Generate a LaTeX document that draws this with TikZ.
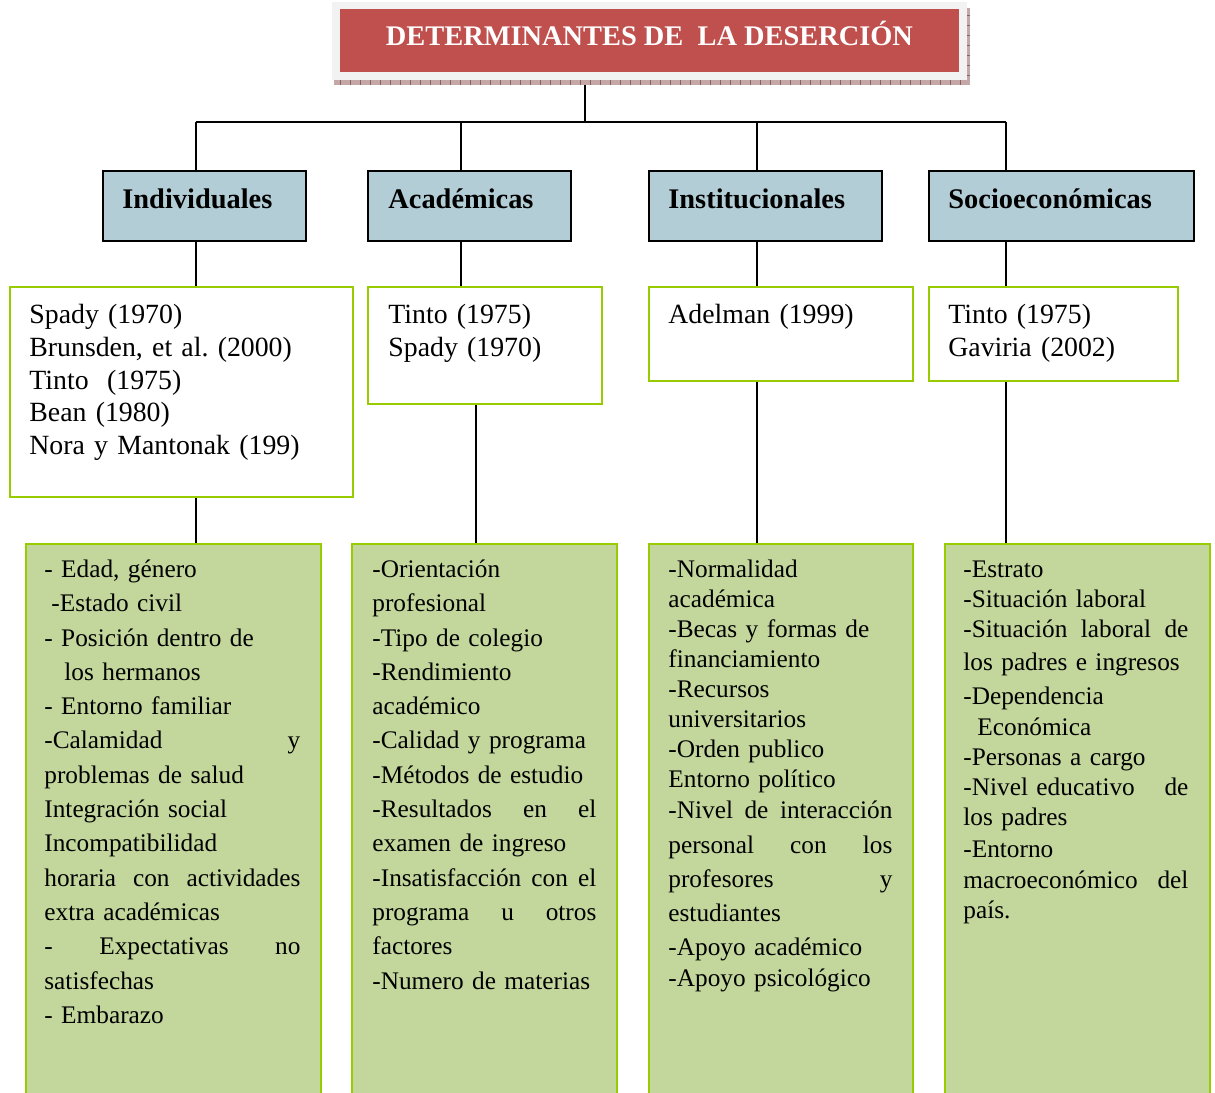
\documentclass[tikz,border=0pt]{standalone}
\usepackage{fontspec}
\setmainfont{Liberation Serif}
\frenchspacing
\usetikzlibrary{positioning,calc}
\definecolor{titlered}{RGB}{192,80,77}
\definecolor{framegray}{RGB}{242,242,242}
\definecolor{shadowpink}{RGB}{196,168,168}
\definecolor{shadowdark}{RGB}{140,96,96}
\definecolor{hdrblue}{RGB}{178,205,214}
\definecolor{limeline}{RGB}{153,204,0}
\definecolor{sagefill}{RGB}{195,214,155}
\tikzset{
    x=0.5pt,
    y=-0.5pt,
    box/.style = {
        draw,
        shape=rectangle,
        anchor=north west,
        inner sep=0pt
    },
    titlebox/.style = {
        shape=rectangle,
        fill=titlered,
        text=white,
        font=\bfseries\fontsize{14.2}{17}\selectfont,
        minimum width=309.5pt,
        minimum height=31.5pt,
        text height=9.4pt,
        text depth=3.9pt,
        inner sep=0pt
    },
    header/.style = {
        box,
        fill=hdrblue,
        line width=1pt,
        minimum height=35pt
    },
    refbox/.style = {
        box,
        draw=limeline,
        fill=white,
        line width=1.2pt
    },
    listbox/.style = {
        box,
        draw=limeline,
        fill=sagefill,
        line width=1.2pt,
        minimum height=276.5pt
    },
    boxtext/.style = {
        anchor=north west,
        inner sep=0pt,
        text height=10pt,
        align=left
    },
    hdrtext/.style = {
        boxtext,
        text width=118pt,
        font=\bfseries\fontsize{14.2}{17}\selectfont
    },
    reftext/.style = {
        boxtext,
        font=\fontsize{13.9}{16.4}\selectfont
    },
    listtext/.style = {
        boxtext,
        font=\fontsize{12.65}{17.15}\selectfont
    },
    tighttext/.style = {
        boxtext,
        font=\fontsize{12.65}{15}\selectfont
    },
    link/.style = {line width=1pt}
}

\begin{document}
\begin{tikzpicture}

    \useasboundingbox (0,0) rectangle (1215,1092);

    % title frame with its shadow
    \fill[shadowpink] (334,8) rectangle (970,85);
    \foreach \i in {340,350,...,960}
        \draw[shadowdark, line width=0.4pt] (\i,80) -- (\i,85);
    \foreach \j in {15,25,...,75}
        \draw[shadowdark, line width=0.4pt] (967,\j) -- (970,\j);
    \fill[framegray] (332,2) rectangle (967,80);
    \node[titlebox] (title) at (649.5,40.5) {DETERMINANTES DE\ \ LA DESERCIÓN};

    % headers
    \node[header, minimum width=101.5pt] (indiv_head) at (102,170) {};
    \node[header, minimum width=101.5pt] (acad_head) at (367,170) {};
    \node[header, minimum width=116.5pt] (inst_head) at (648,170) {};
    \node[header, minimum width=132.5pt] (socio_head) at (928,170) {};

    \node[hdrtext] (indiv_head_txt) at ([shift={(20,18)}]indiv_head.north west) {Individuales};
    \node[hdrtext] (acad_head_txt) at ([shift={(21,18)}]acad_head.north west) {Académicas};
    \node[hdrtext] (inst_head_txt) at ([shift={(20,18)}]inst_head.north west) {Institucionales};
    \node[hdrtext] (socio_head_txt) at ([shift={(20,18)}]socio_head.north west) {Socioeconómicas};

    % authors
    \node[refbox, minimum width=171.5pt, minimum height=105pt] (indiv_ref) at (9,286) {};
    \node[refbox, minimum width=117pt, minimum height=58.5pt] (acad_ref) at (367,286) {};
    \node[refbox, minimum width=132pt, minimum height=47pt] (inst_ref) at (648,286) {};
    \node[refbox, minimum width=124.5pt, minimum height=47pt] (socio_ref) at (928,286) {};

    \node[reftext, text width=150pt] (indiv_ref_txt) at ([shift={(20,17)}]indiv_ref.north west)
        {Spady (1970)\\ Brunsden, et al. (2000)\\ Tinto\ \ (1975)\\ Bean (1980)\\ Nora y Mantonak (199)};
    \node[reftext, text width=100pt] (acad_ref_txt) at ([shift={(21,17)}]acad_ref.north west)
        {Tinto (1975)\\ Spady (1970)};
    \node[reftext, text width=115pt] (inst_ref_txt) at ([shift={(20,17)}]inst_ref.north west)
        {Adelman (1999)};
    \node[reftext, text width=110pt] (socio_ref_txt) at ([shift={(20,17)}]socio_ref.north west)
        {Tinto (1975)\\ Gaviria (2002)};

    % factors
    \node[listbox, minimum width=147.5pt] (indiv_list) at (25,543) {};
    \node[listbox, minimum width=132.5pt] (acad_list) at (351,543) {};
    \node[listbox, minimum width=132pt] (inst_list) at (648,543) {};
    \node[listbox, minimum width=132.5pt] (socio_list) at (944,543) {};

    \node[listtext, text width=128pt] (indiv_list_txt) at ([shift={(19,14)}]indiv_list.north west)
        {- Edad, género\\
         \hspace*{3.5pt}-Estado civil\\
         - Posición dentro de\\
         \hspace*{10pt}los hermanos\\
         - Entorno familiar\\
         -Calamidad\hfill y\\
         problemas de salud\\
         Integración social\\
         Incompatibilidad\\
         horaria\hfill con\hfill actividades\\
         extra académicas\\
         -\hfill Expectativas\hfill no\\
         satisfechas\\
         - Embarazo};
    \node[listtext, text width=112pt] (acad_list_txt) at ([shift={(21,14)}]acad_list.north west)
        {-Orientación\\
         profesional\\
         -Tipo de colegio\\
         -Rendimiento\\
         académico\\
         -Calidad y programa\\
         -Métodos de estudio\\
         -Resultados\hfill en\hfill el\\
         examen de ingreso\\
         -Insatisfacción\hfill con\hfill el\\
         programa\hfill u\hfill otros\\
         factores\\
         -Numero de materias};
    \node[tighttext, text width=112pt] (inst_list_txt) at ([shift={(20,14)}]inst_list.north west)
        {-Normalidad\\
         académica\\
         -Becas y formas de\\
         financiamiento\\
         -Recursos\\
         universitarios\\
         -Orden publico\\
         Entorno político\\[0.5pt]
         -Nivel\hfill de\hfill interacción\\[2.5pt]
         personal\hfill con\hfill los\\[2pt]
         profesores\hfill y\\[2pt]
         estudiantes\\[2pt]
         -Apoyo académico\\[0.5pt]
         -Apoyo psicológico};
    \node[tighttext, text width=112.5pt] (socio_list_txt) at ([shift={(19,14)}]socio_list.north west)
        {-Estrato\\
         -Situación laboral\\
         -Situación\hfill laboral\hfill de\\[1.5pt]
         los padres e ingresos\\[2pt]
         -Dependencia\\[0.5pt]
         \hspace*{7pt}Económica\\
         -Personas a cargo\\
         -Nivel educativo\hfill de\\
         los padres\\[1pt]
         -Entorno\\[0.5pt]
         macroeconómico\hfill del\\
         país.};

    % connectors
    \coordinate (title_foot) at (585,85);
    \coordinate (hub) at (585,122);
    \coordinate (col_a) at (196,122);
    \coordinate (col_b) at (461,122);
    \coordinate (col_c) at (757,122);
    \coordinate (col_d) at (1006,122);
    \coordinate (acad_drop) at (476,403);

    \path[draw, link] (title_foot) -- (hub);
    \path[draw, link] (col_a) -- (col_d);

    \path[draw, link] (col_a) -- (col_a |- indiv_head.north);
    \path[draw, link] (col_b) -- (col_b |- acad_head.north);
    \path[draw, link] (col_c) -- (col_c |- inst_head.north);
    \path[draw, link] (col_d) -- (col_d |- socio_head.north);

    \path[draw, link] (col_a |- indiv_head.south) -- (col_a |- indiv_ref.north);
    \path[draw, link] (col_b |- acad_head.south) -- (col_b |- acad_ref.north);
    \path[draw, link] (col_c |- inst_head.south) -- (col_c |- inst_ref.north);
    \path[draw, link] (col_d |- socio_head.south) -- (col_d |- socio_ref.north);

    \path[draw, link] (col_a |- indiv_ref.south) -- (col_a |- indiv_list.north);
    \path[draw, link] (acad_drop |- acad_ref.south) -- (acad_drop |- acad_list.north);
    \path[draw, link] (col_c |- inst_ref.south) -- (col_c |- inst_list.north);
    \path[draw, link] (col_d |- socio_ref.south) -- (col_d |- socio_list.north);

\end{tikzpicture}
\end{document}
